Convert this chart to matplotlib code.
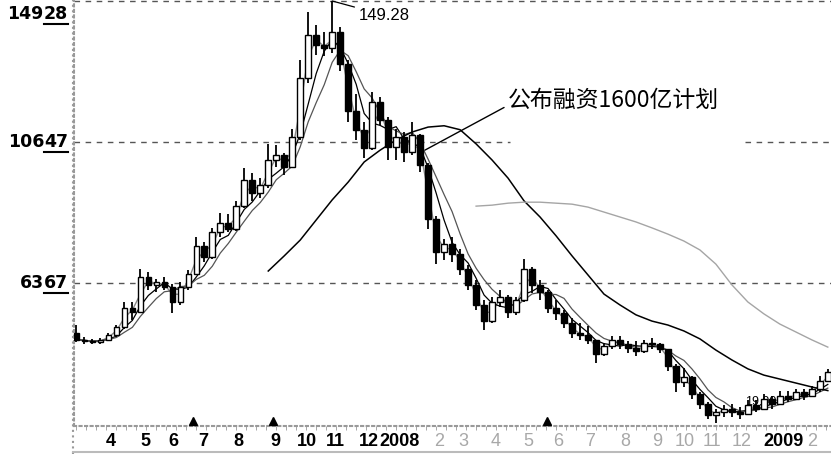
import numpy as np
import pandas as pd
import matplotlib
matplotlib.use('Agg')
import matplotlib.pyplot as plt
from matplotlib.transforms import blended_transform_factory, IdentityTransform
from matplotlib.lines import Line2D

# price bars (roughly one per week)
opens = [48.5, 46.5, 46.0, 45.6, 46.4, 48.0, 50.2, 56.0, 55.0, 65.5,
         63.0, 64.0, 62.5, 58.0, 62.5, 66.5, 75.0, 71.5, 79.0, 82.0,
         80.0, 87.0, 95.0, 91.0, 93.5, 101.0, 102.5, 99.0, 108.0, 126.0,
         139.0, 136.0, 135.0, 140.0, 130.0, 116.0, 110.0, 104.5, 118.5, 113.0,
         105.0, 108.0, 103.5, 108.5, 99.5, 83.0, 73.0, 75.5, 72.5, 68.0,
         63.0, 57.0, 52.0, 58.0, 59.5, 55.0, 58.5, 68.0, 63.0, 61.0,
         56.0, 54.5, 51.5, 48.5, 48.0, 46.5, 42.0, 44.5, 46.5, 45.0,
         44.0, 43.0, 45.5, 45.0, 43.5, 38.5, 33.5, 35.0, 30.0, 27.0,
         23.5, 24.5, 25.5, 24.5, 24.0, 26.5, 25.5, 28.5, 27.0, 29.5,
         28.5, 30.5, 29.5, 31.5, 34.0]
highs = [51.0, 47.2, 46.8, 47.0, 48.6, 51.0, 57.8, 58.0, 67.8, 67.0,
         65.0, 65.5, 63.5, 64.0, 67.5, 77.5, 76.0, 80.5, 85.0, 84.5,
         88.5, 98.5, 97.0, 95.5, 106.0, 105.5, 103.0, 110.5, 131.5, 146.0,
         142.0, 140.0, 149.28, 141.5, 131.5, 121.0, 112.5, 121.5, 120.0, 114.0,
         110.5, 109.5, 112.5, 109.0, 100.0, 84.0, 77.0, 77.5, 74.0, 69.0,
         64.5, 58.5, 59.5, 61.5, 60.0, 59.5, 71.0, 68.5, 64.5, 61.5,
         58.5, 55.5, 53.0, 51.5, 50.5, 46.5, 45.5, 47.5, 47.5, 46.0,
         46.0, 46.5, 47.0, 45.5, 43.5, 39.0, 38.0, 35.5, 30.5, 27.5,
         25.5, 26.5, 27.0, 26.0, 28.0, 28.0, 30.0, 29.5, 31.0, 31.0,
         31.5, 31.5, 32.5, 35.5, 37.5]
lows = [45.8, 45.2, 45.0, 45.2, 46.0, 47.2, 49.8, 52.5, 54.5, 61.5,
        61.0, 61.5, 54.5, 57.0, 61.5, 66.0, 70.0, 71.0, 77.5, 79.0,
        79.5, 86.5, 88.5, 89.5, 92.5, 99.0, 96.5, 98.5, 107.0, 124.5,
        133.0, 132.5, 133.5, 128.0, 112.5, 107.0, 101.5, 104.0, 111.5, 101.0,
        101.0, 100.5, 102.5, 97.5, 80.0, 69.5, 70.5, 70.0, 66.0, 61.5,
        55.5, 49.5, 51.5, 56.5, 53.0, 54.0, 58.0, 60.5, 58.5, 54.5,
        52.5, 50.0, 47.0, 46.5, 45.0, 39.5, 41.5, 43.5, 43.5, 42.5,
        41.5, 42.5, 43.5, 42.5, 37.0, 30.5, 32.0, 28.5, 25.5, 22.5,
        21.2, 23.0, 23.0, 22.5, 24.0, 24.5, 25.5, 25.5, 27.0, 27.5,
        28.0, 28.0, 29.0, 30.5, 33.5]
closes = [46.5, 46.0, 45.6, 46.4, 48.0, 50.2, 56.0, 55.0, 65.5, 63.0,
          64.0, 62.5, 58.0, 62.5, 66.5, 75.0, 71.5, 79.0, 82.0, 80.0,
          87.0, 95.0, 91.0, 93.5, 101.0, 102.5, 99.0, 108.0, 126.0, 139.0,
          136.0, 135.0, 140.0, 130.0, 116.0, 110.0, 104.5, 118.5, 113.0, 105.0,
          108.0, 103.5, 108.5, 99.5, 83.0, 73.0, 75.5, 72.5, 68.0, 63.0,
          57.0, 52.0, 58.0, 59.5, 55.0, 58.5, 68.0, 63.0, 61.0, 56.0,
          54.5, 51.5, 48.5, 48.0, 46.5, 42.0, 44.5, 46.5, 45.0, 44.0,
          43.0, 45.5, 45.0, 43.5, 38.5, 33.5, 35.0, 30.0, 27.0, 23.5,
          24.5, 25.5, 24.5, 24.0, 26.5, 25.5, 28.5, 27.0, 29.5, 28.5,
          30.5, 29.5, 31.5, 34.0, 36.5]

# long moving averages
ma120_idx = list(range(24, 95, 2))
ma120 = [67.3, 71.9, 76.7, 82.8, 88.9, 94.3, 100.4, 104.0, 107.1, 109.5,
         111.0, 111.4, 110.2, 105.9, 101.0, 95.5, 88.6, 83.7, 78.0, 71.9,
         66.1, 60.3, 57.0, 54.0, 52.1, 50.9, 49.1, 46.7, 43.3, 40.3,
         37.6, 35.7, 34.5, 33.3, 32.1, 31.0]
ma250_idx = list(range(50, 95, 2))
ma250 = [87.0, 87.3, 87.9, 88.2, 88.2, 87.9, 87.6, 86.7, 85.2, 83.7,
         82.2, 80.4, 78.5, 76.4, 73.7, 69.4, 63.1, 57.9, 54.3, 51.2,
         48.8, 46.4, 44.2]

# axis labels
month_labels = ['4', '5', '6', '7', '8', '9', '10', '11', '12', '2008',
                '2', '3', '4', '5', '6', '7', '8', '9', '10', '11', '12', '2009', '2']
month_pos = [4.25, 8.6, 12.1, 15.9, 20.25, 24.9, 28.9, 32.4, 36.6, 40.4,
             45.4, 48.4, 52.4, 56.5, 60.25, 64.25, 68.6, 72.6, 76.1, 79.5, 83.25, 88.5, 92.1]
grid_levels = [149.28, 106.47, 63.67]
event_pos = [14.6, 24.6, 58.9]

W, H = 831, 454
fig = plt.figure(figsize=(W / 100, H / 100), dpi=100)
ax = fig.add_axes([74 / W, 28 / H, (W - 74) / W, (H - 28) / H])

df = pd.DataFrame({'o': opens, 'h': highs, 'l': lows, 'c': closes})
x = np.arange(len(df))
up = df['c'] >= df['o']

# candles
ax.vlines(x, df['l'], df['h'], color='black', lw=1.3, zorder=3)
body_lo = np.minimum(df['o'], df['c'])
body_h = np.maximum((df['c'] - df['o']).abs(), 0.3)
ax.bar(x[up], body_h[up], bottom=body_lo[up], width=0.7, color='white',
       edgecolor='black', lw=1, zorder=4)
ax.bar(x[~up], body_h[~up], bottom=body_lo[~up], width=0.7, color='black',
       edgecolor='black', lw=1, zorder=4)

# short averages from the closes
ax.plot(x, df['c'].rolling(2, min_periods=1).mean(), color='#8a8a8a', lw=1, zorder=2)
ax.plot(x, df['c'].rolling(4, min_periods=1).mean(), color='black', lw=0.9, zorder=2)
ax.plot(x, df['c'].rolling(6, min_periods=1).mean(), color='#555555', lw=0.9, zorder=2)
# long averages
ax.plot(ma120_idx, ma120, color='black', lw=1.1, zorder=2)
ax.plot(ma250_idx, ma250, color='#a5a5a5', lw=1.0, zorder=2)

ax.set_xlim(-0.3, 94.4)
ax.set_ylim(20.25, 149.58)

# dashed price levels (middle one is broken behind the note)
gap0, gap1 = (510 - 74) / (W - 74), (745 - 74) / (W - 74)
for lv in grid_levels:
    if lv == 106.47:
        ax.axhline(lv, xmax=gap0, color='#555555', ls=(0, (4, 4)), lw=1, zorder=1)
        ax.axhline(lv, xmin=gap1, color='#555555', ls=(0, (4, 4)), lw=1, zorder=1)
    else:
        ax.axhline(lv, color='#555555', ls=(0, (4, 4)), lw=1, zorder=1)

for s in ['top', 'right']:
    ax.spines[s].set_visible(False)
for s in ['left', 'bottom']:
    ax.spines[s].set_color('#999999')
    ax.spines[s].set_linestyle(':')
    ax.spines[s].set_linewidth(1.5)
ax.set_yticks([])
ax.set_xticks([])
ax.set_xticks(np.arange(0, 95, 1.25), minor=True)
ax.tick_params(axis='x', which='minor', length=3, color='#999999', direction='out')

# month labels
trans = blended_transform_factory(ax.transData, fig.transFigure)
for lab, pos in zip(month_labels, month_pos):
    if lab in ('2008', '2009') or pos < 40:
        ax.text(pos, 13 / H, lab, transform=trans, ha='center', va='center',
                fontsize=13, fontweight='bold', family='Liberation Sans', color='black')
    else:
        ax.text(pos, 13 / H, lab, transform=trans, ha='center', va='center',
                fontsize=13, family='Liberation Sans', color='#a8a8a8')

# event triangles sitting on the axis
ev_trans = blended_transform_factory(ax.transData, ax.transAxes)
ax.plot(event_pos, [0.012] * len(event_pos), ls='none', marker='^', ms=6,
        color='black', transform=ev_trans, clip_on=False, zorder=5)

# annotations
ax.annotate('149.28', xy=(32, 149.28), xytext=(35.3, 145.0), fontsize=12,
            family='Liberation Sans', ha='left', va='center',
            arrowprops=dict(arrowstyle='-', color='black', lw=0.9, shrinkA=1, shrinkB=0))
ax.annotate('公布融资1600亿计划', xy=(43.6, 104.0), xytext=(54.0, 119.0),
            fontsize=16.5, family=['Noto Sans CJK SC', 'DejaVu Sans'], ha='left', va='center',
            arrowprops=dict(arrowstyle='-', color='black', lw=1, shrinkA=1, shrinkB=0,
                            relpos=(0, 0.3)))
ax.text(83.6, 27.5, '19.90', fontsize=9, family='Liberation Sans', ha='left', va='center')

# frame lines outside the axes
fig.add_artist(Line2D([73, 73], [0, H], transform=IdentityTransform(),
                      color='#999999', ls=':', lw=1.5))
fig.add_artist(Line2D([73, W], [2, 2], transform=IdentityTransform(),
                      color='#bbbbbb', lw=1.5))

# y labels with the two last digits underlined
yfont = dict(fontsize=12.5, fontweight='bold', family='DejaVu Sans', color='black')
fig.canvas.draw()
r = fig.canvas.get_renderer()
for lv in grid_levels:
    s = f'{lv:.2f}'.replace('.', '')
    ypx = ax.transData.transform((0, lv))[1]
    if lv == max(grid_levels):
        ypx -= 13
    t = fig.text(68, ypx, s[-2:], transform=IdentityTransform(), ha='right', va='center', **yfont)
    bb = t.get_window_extent(r)
    fig.text(bb.x0, ypx, s[:-2], transform=IdentityTransform(), ha='right', va='center', **yfont)
    fig.add_artist(Line2D([bb.x0, bb.x1], [bb.y0 - 1, bb.y0 - 1], transform=IdentityTransform(),
                          color='black', lw=1.5))

fig.savefig('out.png', dpi=100, facecolor='white')
